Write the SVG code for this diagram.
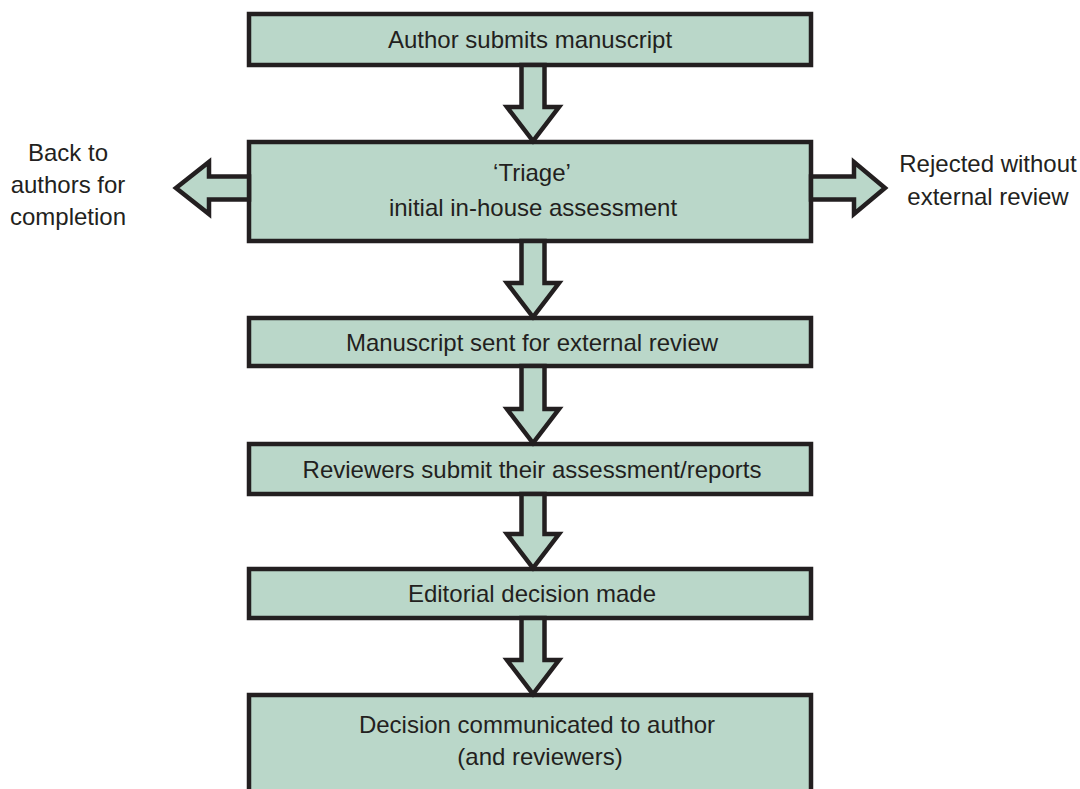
<svg xmlns="http://www.w3.org/2000/svg" width="1080" height="789" viewBox="0 0 1080 789">
<style>
.box{fill:#BAD7C9;stroke:#231F20;stroke-width:4.5}
.arr{fill:#BAD7C9;stroke:#231F20;stroke-width:4.5;stroke-linejoin:miter;stroke-miterlimit:10}
text{font-family:"Liberation Sans",Arial,sans-serif;font-size:24px;fill:#231F20;text-anchor:middle}
</style>
<rect width="1080" height="789" fill="#ffffff"/>
<g id="n1"><rect class="box" x="249" y="14" width="562" height="51"/><text x="530" y="48">Author submits manuscript</text></g>
<g id="n2"><rect class="box" x="249" y="142" width="562" height="99"/><text x="532" y="181">‘Triage’</text><text x="533" y="216">initial in-house assessment</text></g>
<g id="n3"><rect class="box" x="249" y="318" width="562" height="48"/><text x="532" y="351">Manuscript sent for external review</text></g>
<g id="n4"><rect class="box" x="249" y="444" width="562" height="50"/><text x="532" y="478">Reviewers submit their assessment/reports</text></g>
<g id="n5"><rect class="box" x="249" y="569" width="562" height="49"/><text x="532" y="602">Editorial decision made</text></g>
<g id="n6"><rect class="box" x="249" y="695" width="562" height="120"/><text x="537" y="733">Decision communicated to author</text><text x="540" y="765">(and reviewers)</text></g>
<g id="side-left"><text x="68" y="161">Back to</text><text x="68" y="193">authors for</text><text x="68" y="225">completion</text></g>
<g id="side-right"><text x="988" y="172">Rejected without</text><text x="988" y="205">external review</text></g>
<g id="connectors">
<polygon class="arr" points="521.5,65 544.5,65 544.5,107 559,107 533,141 507,107 521.5,107"/>
<polygon class="arr" points="521.5,241 544.5,241 544.5,283 559,283 533,317 507,283 521.5,283"/>
<polygon class="arr" points="521.5,366 544.5,366 544.5,409 559,409 533,443 507,409 521.5,409"/>
<polygon class="arr" points="521.5,494 544.5,494 544.5,534 559,534 533,568 507,534 521.5,534"/>
<polygon class="arr" points="521.5,618 544.5,618 544.5,660 559,660 533,694 507,660 521.5,660"/>
<polygon class="arr" points="811,176.5 854,176.5 854,162 885,188 854,214 854,199.5 811,199.5"/>
<polygon class="arr" points="249,176.5 209,176.5 209,162 176,188 209,214 209,199.5 249,199.5"/>
</g>
</svg>
